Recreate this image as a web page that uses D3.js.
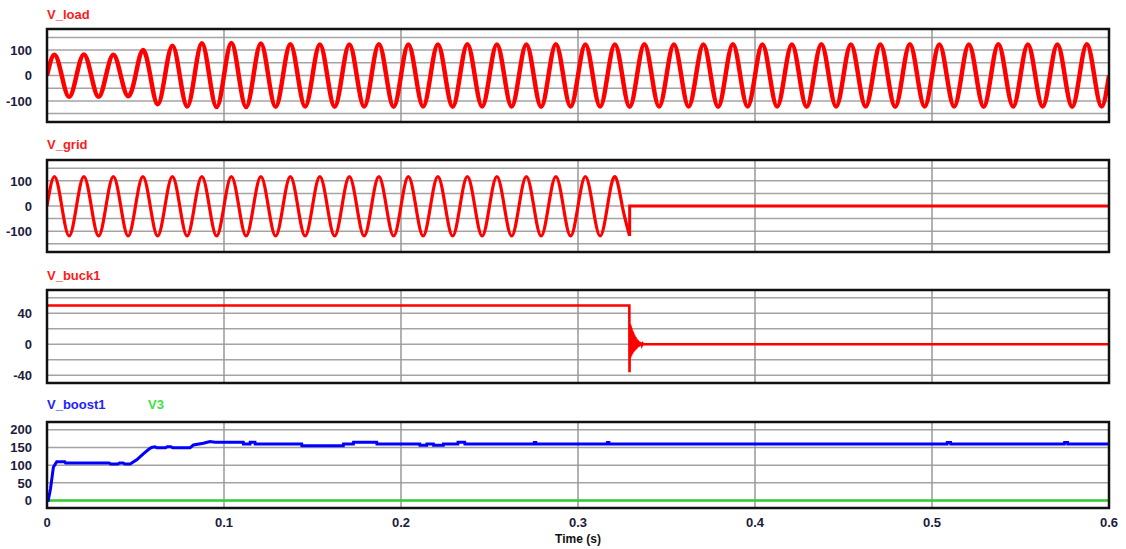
<!DOCTYPE html>
<html><head><meta charset="utf-8">
<script src="https://cdn.jsdelivr.net/npm/d3@7"></script>
<style>
body{margin:0;background:#fff;}
text{font-family:"Liberation Sans",Arial,sans-serif;font-weight:bold;}
</style>
</head><body>
<svg id="c" width="1126" height="549"></svg>
<script>
// ---------- data ----------
const xTicks = [0, 0.1, 0.2, 0.3, 0.4, 0.5, 0.6];
const xTickLabels = ["0", "0.1", "0.2", "0.3", "0.4", "0.5", "0.6"];
const xGridTicks = [0.1, 0.2, 0.3, 0.4, 0.5];
const halfPeriod = 1 / 120; // 60 Hz waveforms, one extreme per half cycle

// V_load: extreme value of each half cycle
const loadPeaks = [
  82, -84, 83, -84, 82, -82, 100, -113, 117, -122, 127, -124, 128, -124, 126, -123,
  123, -122, 122, -123, 122, -122, 123, -123, 122, -122, 122, -123, 123, -122, 122, -122,
  122, -123, 123, -122, 122, -122, 122, -123, 123, -122, 122, -122, 122, -123, 123, -122,
  122, -122, 122, -123, 123, -122, 122, -122, 122, -123, 123, -122, 122, -122, 122, -123,
  123, -122, 122, -122, 122, -123, 123, -122
];
// V_grid: extreme value of each half cycle until the grid is disconnected
const gridPeaks = [
  117, -119, 117, -119, 117, -119, 117, -119, 117, -119, 117, -119, 117, -119, 117, -119,
  117, -119, 117, -119, 117, -119, 117, -119, 117, -119, 117, -119, 117, -119, 117, -119,
  117, -119, 117, -119, 117, -119, 117, -119
];
const gridOffTime = 0.3292;
const gridEnd = 0.6;

// V_buck1 [time, value]
const buck = [
  [0, 50], [0.3290, 50], [0.3291, -36], [0.3293, 26], [0.3295, -17], [0.3297, 24], [0.3299, -15],
  [0.3301, 21], [0.3303, -13], [0.3305, 18], [0.3307, -12], [0.3309, 16], [0.3311, -10],
  [0.3313, 14], [0.3315, -9], [0.3317, 12], [0.3319, -8], [0.3321, 10], [0.3323, -7],
  [0.3325, 9], [0.3327, -6], [0.3329, 7], [0.3331, -5], [0.3333, 6], [0.3335, -4],
  [0.3337, 5], [0.3339, -3], [0.3341, 4], [0.3343, -3], [0.3345, 3], [0.3347, -2],
  [0.3349, 3], [0.3351, -2], [0.3353, 2], [0.3355, -1], [0.3358, 2], [0.3361, -1],
  [0.3365, 1], [0.3370, 0], [0.6, 0]
];

// V_boost1 [time, value]
const boost = [
  [0, 0], [0.0007, 0], [0.002, 34], [0.0036, 94], [0.0055, 110], [0.010, 110], [0.0105, 106],
  [0.035, 106], [0.036, 103], [0.040, 103], [0.041, 106], [0.043, 106], [0.044, 103], [0.047, 103],
  [0.0485, 108], [0.0507, 115], [0.0544, 132], [0.0575, 145], [0.0591, 150], [0.061, 152],
  [0.062, 149], [0.067, 149], [0.068, 152], [0.070, 152], [0.071, 149], [0.0808, 149],
  [0.0827, 157], [0.0883, 162], [0.0921, 167], [0.095, 165], [0.1109, 165], [0.111, 160],
  [0.1147, 160], [0.1148, 165], [0.1175, 165], [0.1176, 160], [0.1439, 160], [0.144, 155],
  [0.1674, 155], [0.1675, 160], [0.1731, 160], [0.1732, 165], [0.1863, 165], [0.1864, 160],
  [0.2106, 160], [0.2107, 156], [0.2145, 156], [0.2146, 160], [0.2183, 160], [0.2184, 156],
  [0.2239, 156], [0.224, 160], [0.2321, 160], [0.2322, 165], [0.236, 165], [0.2361, 160],
  [0.2752, 160], [0.2753, 164], [0.2762, 164], [0.2763, 160], [0.3165, 160], [0.3166, 164],
  [0.3175, 164], [0.3176, 160], [0.5085, 160], [0.5086, 164], [0.5105, 164], [0.5106, 160],
  [0.5748, 160], [0.5749, 164], [0.5766, 164], [0.5767, 160], [0.6, 160]
];
// V3 [time, value]
const v3 = [[0, 0], [0.6, 0]];

// ---------- layout ----------
const svg = d3.select("#c");
const xLeft = 47, xRight = 1109;
const x = d3.scaleLinear().domain([0, 0.6]).range([xLeft, xRight]);

const panels = [
  {top: 29, bottom: 122, domain: [-183, 183], grid: [-150, -100, -50, 0, 50, 100, 150], ticks: [-100, 0, 100], titleY: 18.5},
  {top: 160, bottom: 252, domain: [-183, 183], grid: [-150, -100, -50, 0, 50, 100, 150], ticks: [-100, 0, 100], titleY: 149},
  {top: 290, bottom: 383, domain: [-50, 70], grid: [-40, -20, 0, 20, 40, 60], ticks: [-40, 0, 40], titleY: 279.5},
  {top: 422, bottom: 508, domain: [-21, 222], grid: [0, 50, 100, 150, 200], ticks: [0, 50, 100, 150, 200], titleY: 409}
];

function sinePoints(peaks) {
  const pts = [[0, 0]];
  peaks.forEach((v, k) => {
    pts.push([(k + 0.5) * halfPeriod, v]);
    pts.push([(k + 1) * halfPeriod, 0]);
  });
  return pts;
}

panels.forEach((p, i) => {
  p.y = d3.scaleLinear().domain(p.domain).range([p.bottom, p.top]);
  const g = svg.append("g");
  svg.append("clipPath").attr("id", "clip" + i).append("rect")
    .attr("x", xLeft).attr("y", p.top).attr("width", xRight - xLeft).attr("height", p.bottom - p.top);
  g.selectAll("line.h").data(p.grid).join("line")
    .attr("x1", xLeft).attr("x2", xRight)
    .attr("y1", d => p.y(d)).attr("y2", d => p.y(d))
    .attr("stroke", "#a4a4a4").attr("stroke-width", 1.5);
  g.selectAll("line.v").data(xGridTicks).join("line")
    .attr("x1", d => x(d)).attr("x2", d => x(d))
    .attr("y1", p.top).attr("y2", p.bottom)
    .attr("stroke", "#999").attr("stroke-width", 1.5);
  g.selectAll("text.t").data(p.ticks).join("text")
    .attr("x", 32).attr("y", d => p.y(d)).attr("dy", "0.36em")
    .attr("text-anchor", "end").attr("font-size", 13).attr("fill", "#1c1c3c")
    .text(d => d);
  p.g = g.append("g").attr("clip-path", `url(#clip${i})`);
  p.frame = g;
});

const lineNat = y => d3.line().x(d => x(d[0])).y(d => y(d[1])).curve(d3.curveNatural);
const lineLin = y => d3.line().x(d => x(d[0])).y(d => y(d[1]));

panels[0].g.append("path").attr("d", lineNat(panels[0].y)(sinePoints(loadPeaks)))
  .attr("fill", "none").attr("stroke", "#ff0000").attr("stroke-width", 4.5);
const gp = sinePoints(gridPeaks);
gp.pop();
panels[1].g.append("path").attr("d", lineNat(panels[1].y)(gp))
  .attr("fill", "none").attr("stroke", "#ff0000").attr("stroke-width", 3.2);
panels[1].g.append("path")
  .attr("d", lineLin(panels[1].y)([gp[gp.length - 1], [gridOffTime, 0], [gridEnd, 0]]))
  .attr("fill", "none").attr("stroke", "#ff0000").attr("stroke-width", 3);
panels[2].g.append("path").attr("d", lineLin(panels[2].y)(buck))
  .attr("fill", "none").attr("stroke", "#ff0000").attr("stroke-width", 2.6);
panels[3].g.append("path").attr("d", lineLin(panels[3].y)(v3))
  .attr("fill", "none").attr("stroke", "#33cc33").attr("stroke-width", 2.5);
panels[3].g.append("path").attr("d", lineLin(panels[3].y)(boost))
  .attr("fill", "none").attr("stroke", "#0000ff").attr("stroke-width", 3);

panels.forEach(p => {
  p.frame.append("rect").attr("x", xLeft).attr("y", p.top)
    .attr("width", xRight - xLeft).attr("height", p.bottom - p.top)
    .attr("fill", "none").attr("stroke", "#111").attr("stroke-width", 2.5);
});

const titles = [
  {text: "V_load", color: "#ff1a1a", x: 47, p: 0},
  {text: "V_grid", color: "#ff1a1a", x: 47, p: 1},
  {text: "V_buck1", color: "#ff1a1a", x: 47, p: 2},
  {text: "V_boost1", color: "#2222ff", x: 47, p: 3},
  {text: "V3", color: "#44dd44", x: 148, p: 3}
];
svg.selectAll("text.title").data(titles).join("text")
  .attr("x", d => d.x).attr("y", d => panels[d.p].titleY)
  .attr("font-size", 13).attr("fill", d => d.color).text(d => d.text);

svg.selectAll("text.xt").data(xTicks).join("text")
  .attr("x", d => x(d)).attr("y", 527).attr("text-anchor", "middle")
  .attr("font-size", 13).attr("fill", "#1c1c3c").text((d, i) => xTickLabels[i]);
svg.append("text").attr("x", (xLeft + xRight) / 2).attr("y", 543)
  .attr("text-anchor", "middle").attr("font-size", 12).attr("fill", "#111").text("Time (s)");
</script>
</body></html>
